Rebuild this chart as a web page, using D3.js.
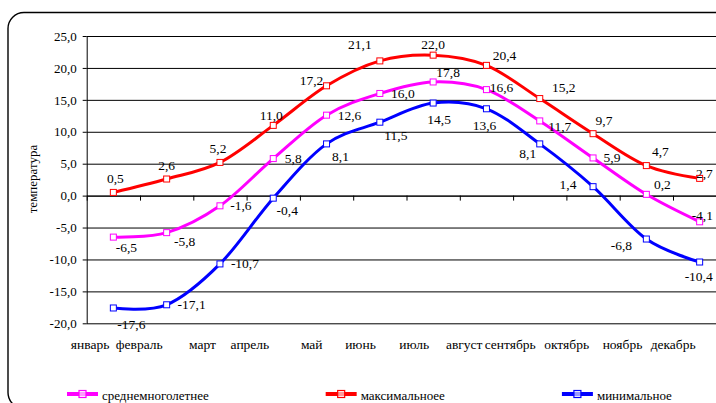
<!DOCTYPE html>
<html><head><meta charset="utf-8">
<script src="https://cdn.jsdelivr.net/npm/d3@7"></script>
<style>html,body{margin:0;padding:0;background:#fff;overflow:hidden}svg{display:block}
svg text{font-family:'Liberation Serif',serif !important;fill:#000}</style>
</head><body><svg id="c" width="716" height="403"></svg>
<script>
// ---- data ----
const months = ["январь","февраль","март","апрель","май","июнь","июль","август","сентябрь","октябрь","ноябрь","декабрь"];
const avgTemp = [-6.5,-5.8,-1.6,5.8,12.6,16.0,17.8,16.6,11.7,5.9,0.2,-4.1];
const maxTemp = [0.5,2.6,5.2,11.0,17.2,21.1,22.0,20.4,15.2,9.7,4.7,2.7];
const minTemp = [-17.6,-17.1,-10.7,-0.4,8.1,11.5,14.5,13.6,8.1,1.4,-6.8,-10.4];
const yTicks = [-20,-15,-10,-5,0,5,10,15,20,25];
const seriesNames = ["среднемноголетнее","максимальноее","минимальное"];
const yTitle = "температура";

// label offsets (px) of each data label relative to its point
const avgLabelDx = [13,18,21,20,23,23,15,15,20,19,16,9];
const avgLabelDy = [10,9,0,0,0,0,-9,-2,6,0,-10,-6];
const maxLabelDx = [2,0,-2,-2,-15,-20,0,18,24,11,14,11];
const maxLabelDy = [-14,-14,-14,-10,-5,-16,-11,-10,-11,-13,-14,-5];
const minLabelDx = [18,25,25,14,14,16,6,-2,-12,-25,-25,6];
const minLabelDy = [17,0,0,12,13,13,16,17,10,-2,6,14];

const series = [
  {name: seriesNames[0], values: avgTemp, color: "#FF00FF", dx: avgLabelDx, dy: avgLabelDy},
  {name: seriesNames[1], values: maxTemp, color: "#FF0000", dx: maxLabelDx, dy: maxLabelDy},
  {name: seriesNames[2], values: minTemp, color: "#0000FF", dx: minLabelDx, dy: minLabelDy}
];

(function draw() {
const FONT = "'Liberation Serif', serif";
const W = 716;
const svg = d3.select("#c");
const pLeft = 86.7, pRight = 726.3, pTop = 36, pBottom = 323.3;
const fmt = v => d3.format(".1f")(v).replace(".", ",").replace("−","-");

// frame
svg.append("rect").attr("x", 8).attr("y", 12.5).attr("width", 760).attr("height", 396)
  .attr("rx", 16).attr("ry", 16).attr("fill", "none").attr("stroke", "#000").attr("stroke-width", 1.4);

const x = d3.scaleBand().domain(months).range([pLeft, pRight]);
const xIdx = d3.scaleLinear().domain([0, months.length]).range([pLeft, pRight]);
const y = d3.scaleLinear().domain([-20, 25]).range([pBottom, pTop]);
const xc = m => x(m) + x.bandwidth() / 2;

// gridlines
svg.append("g").attr("transform", `translate(${pLeft},0)`)
  .call(d3.axisLeft(y).tickValues(yTicks).tickSize(-(pRight - pLeft)).tickFormat(""))
  .call(g => g.select(".domain").remove())
  .call(g => g.selectAll("line").attr("stroke", "#000").attr("stroke-width", 1));

// y axis
const ya = svg.append("g").attr("transform", `translate(${pLeft},0)`)
  .call(d3.axisLeft(y).tickValues(yTicks).tickSizeInner(4).tickSizeOuter(0).tickPadding(6).tickFormat(fmt))
  .attr("font-family", FONT).attr("font-size", 13);
ya.selectAll("line,path").attr("stroke", "#000");
ya.selectAll("text").attr("fill", "#000");

// x axis at zero
const xa = svg.append("g").attr("transform", `translate(0,${y(0)})`)
  .call(d3.axisBottom(xIdx).tickValues(d3.range(0, months.length + 1)).tickSizeInner(5).tickSizeOuter(0).tickFormat(""));
xa.selectAll("line,path").attr("stroke", "#000");

// x labels (low position)
svg.append("g").attr("font-family", FONT).attr("font-size", 13.5)
  .selectAll("text").data(months).join("text")
  .attr("x", d => xc(d) - 4).attr("y", 349)
  .attr("text-anchor", "end").text(d => d);

// y title
svg.append("text").attr("transform", "translate(37,179) rotate(-90)")
  .attr("font-family", FONT).attr("font-size", 13)
  .attr("text-anchor", "middle").text(yTitle);

// lines
const line = d3.line().x((d, i) => xc(months[i])).y(d => y(d)).curve(d3.curveCardinal.tension(0));
series.forEach(s => {
  svg.append("path").datum(s.values).attr("d", line)
    .attr("fill", "none").attr("stroke", s.color).attr("stroke-width", 3).attr("stroke-linejoin", "round");
});
series.forEach(s => {
  svg.append("g").selectAll("rect").data(s.values).join("rect")
    .attr("x", (d, i) => xc(months[i]) - 3).attr("y", d => y(d) - 3)
    .attr("width", 6).attr("height", 6).attr("fill", "#fff").attr("stroke", s.color).attr("stroke-width", 1);
});
series.forEach(s => {
  svg.append("g").attr("font-family", FONT).attr("font-size", 13.5)
    .selectAll("text").data(s.values).join("text")
    .attr("x", (d, i) => xc(months[i]) + s.dx[i])
    .attr("y", (d, i) => y(d) + s.dy[i])
    .attr("text-anchor", "middle").attr("dominant-baseline", "central")
    .text(d => fmt(d))
    .each(function() {
      // keep labels inside the picture
      const b = this.getBBox();
      const over = b.x + b.width - (W - 3);
      if (over > 0) d3.select(this).attr("x", +d3.select(this).attr("x") - over);
    });
});

// legend
let lx = 67;
const ly = 394;
series.forEach(s => {
  const g = svg.append("g");
  g.append("line").attr("x1", lx).attr("x2", lx + 31).attr("y1", ly).attr("y2", ly)
    .attr("stroke", s.color).attr("stroke-width", 4);
  g.append("rect").attr("x", lx + 12).attr("y", ly - 3.5).attr("width", 7).attr("height", 7)
    .attr("fill", "#fff").attr("fill-opacity", 0.6).attr("stroke", s.color).attr("stroke-width", 1.2);
  const t = g.append("text").attr("x", lx + 35).attr("y", ly + 6)
    .attr("font-family", FONT).attr("font-size", 13).text(s.name);
  lx = lx + 35 + t.node().getComputedTextLength() + 117;
});
})();
</script></body></html>
